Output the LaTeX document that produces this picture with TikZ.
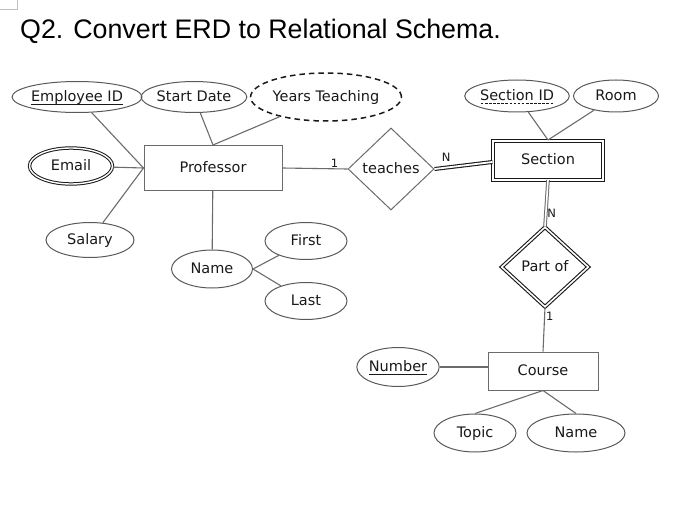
\documentclass[tikz,border=0pt]{standalone}
\usepackage{fontspec}
\setmainfont{DejaVu Sans}
\newfontfamily\titlefont{Liberation Sans}
\usetikzlibrary{shapes.geometric}
\definecolor{LineGray}{rgb}{0.42, 0.42, 0.42}
\definecolor{EdgeGray}{rgb}{0.35, 0.35, 0.35}
\definecolor{InkBlack}{rgb}{0.1, 0.1, 0.1}

% subrayado discontinuo (clave parcial)
\newcommand\dashunder[1]{\setbox0\hbox{#1}\leavevmode
  \rlap{\raisebox{-2.6pt}{\hbox to \wd0{\xleaders\hbox to 4pt{\hss\rule{2.6pt}{0.9pt}\hss}\hfill}}}\box0}
% subrayado continuo
\newcommand\solidunder[1]{\setbox0\hbox{#1}\leavevmode
  \rlap{\raisebox{-2.6pt}{\rule{\wd0}{0.9pt}}}\box0}

\tikzset{
  attr/.style={ellipse, draw=EdgeGray, line width=1pt, inner sep=0pt, text=InkBlack,
    text height=1.9ex, text depth=0.1ex, font=\fontsize{14.5}{16}\selectfont},
  entity/.style={rectangle, draw=LineGray, line width=1pt, inner sep=0pt, text=InkBlack,
    text height=1.9ex, text depth=0.1ex, font=\fontsize{14.5}{16}\selectfont},
  relation/.style={diamond, draw=LineGray, line width=1pt, inner sep=0pt, text=InkBlack,
    text height=1.9ex, text depth=0.1ex, font=\fontsize{14.5}{16}\selectfont},
  link/.style={LineGray, line width=1.1pt},
  card/.style={font=\fontsize{11.5}{13}\selectfont, text=InkBlack, inner sep=1pt}
}

\begin{document}
\begin{tikzpicture}[x=1pt, y=-1pt]
\useasboundingbox (0,0) rectangle (682,524);

% cabecera
\draw[black!25, line width=1pt] (0,10) -- (17,10) -- (17,0);
\node[anchor=base west, inner sep=0pt, font=\titlefont\fontsize{26.8}{30}\selectfont] (title) at (20,39)
    {Q2. Convert ERD to Relational Schema.};

% --- entidades ---
\node[entity, minimum width=138, minimum height=45] (prof) at (213,168) {Professor};
\node[entity, draw=InkBlack, double, double distance=2pt, minimum width=110, minimum height=39] (sect) at (548,160) {Section};
\node[entity, minimum width=110, minimum height=38] (course) at (543,371) {Course};

% --- relaciones ---
\node[relation, minimum width=86, minimum height=82] (teaches) at (391,169) {teaches};
\node[relation, draw=InkBlack, double, double distance=1.6pt, line width=1.1pt,
      minimum width=87, minimum height=80] (partof) at (545,267) {Part of};

% --- atributos de Professor ---
\node[attr, minimum width=118, minimum height=31] (empid) at (77,97) {\solidunder{Employee ID}};
\node[attr, minimum width=88, minimum height=31] (start) at (194,97) {Start Date};
\node[attr, draw=InkBlack, line width=1.5pt, dash pattern=on 5.5pt off 4pt,
      minimum width=127, minimum height=48] (years) at (326,97) {Years Teaching};
\node[attr, draw=InkBlack, double, double distance=1.4pt, minimum width=83, minimum height=36] (email) at (71,166) {Email};
\node[attr, minimum width=88, minimum height=35] (salary) at (90,240) {Salary};
\node[attr, minimum width=81, minimum height=38] (pname) at (212,269) {Name};
\node[attr, minimum width=82, minimum height=37] (first) at (306,241) {First};
\node[attr, minimum width=82, minimum height=37] (last) at (306,301) {Last};

% --- atributos de Section y Course ---
\node[attr, minimum width=100, minimum height=32] (secid) at (517,96) {\dashunder{Section ID}};
\node[attr, minimum width=85, minimum height=32] (room) at (616,96) {Room};
\node[attr, minimum width=82, minimum height=39] (number) at (398,367) {\solidunder{Number}};
\node[attr, minimum width=82, minimum height=38] (topic) at (475,433) {Topic};
\node[attr, minimum width=98, minimum height=38] (cname) at (576,433) {Name};

% --- conexiones ---
\draw[link] (empid) -- (prof.west);
\draw[link] (email) -- (prof.west);
\draw[link] (salary) -- (prof.west);
\draw[link] (start) -- (prof.north);
\draw[link] (years) -- (prof.north);
\draw[link] (prof) -- (pname);
\draw[link] (pname.east) -- (first);
\draw[link] (pname.east) -- (last);
\draw[link] (secid) -- (sect.north);
\draw[link] (room) -- (sect.north);
\draw[link] (course.south) -- (topic.north);
\draw[link] (course.south) -- (cname.north);
\draw[link] (number.east) -- (number.east -| course.west);

% cardinalidades
\draw[link] (prof.east) -- node[card, above, pos=0.8] (c1) {1} (teaches.west);
\draw[InkBlack, line width=1.1pt, double, double distance=1.8pt] (teaches.east) -- node[card, above, pos=0.2, yshift=5pt] (cn1) {N} ([yshift=-2pt]sect.west);
\draw[LineGray, line width=1pt, double, double distance=1.6pt] (sect.south) -- node[card, right, pos=0.72] (cn2) {N} (partof.north);
\draw[link] (partof.south) -- node[card, right, pos=0.2] (c2) {1} (course.north);

\end{tikzpicture}
\end{document}
